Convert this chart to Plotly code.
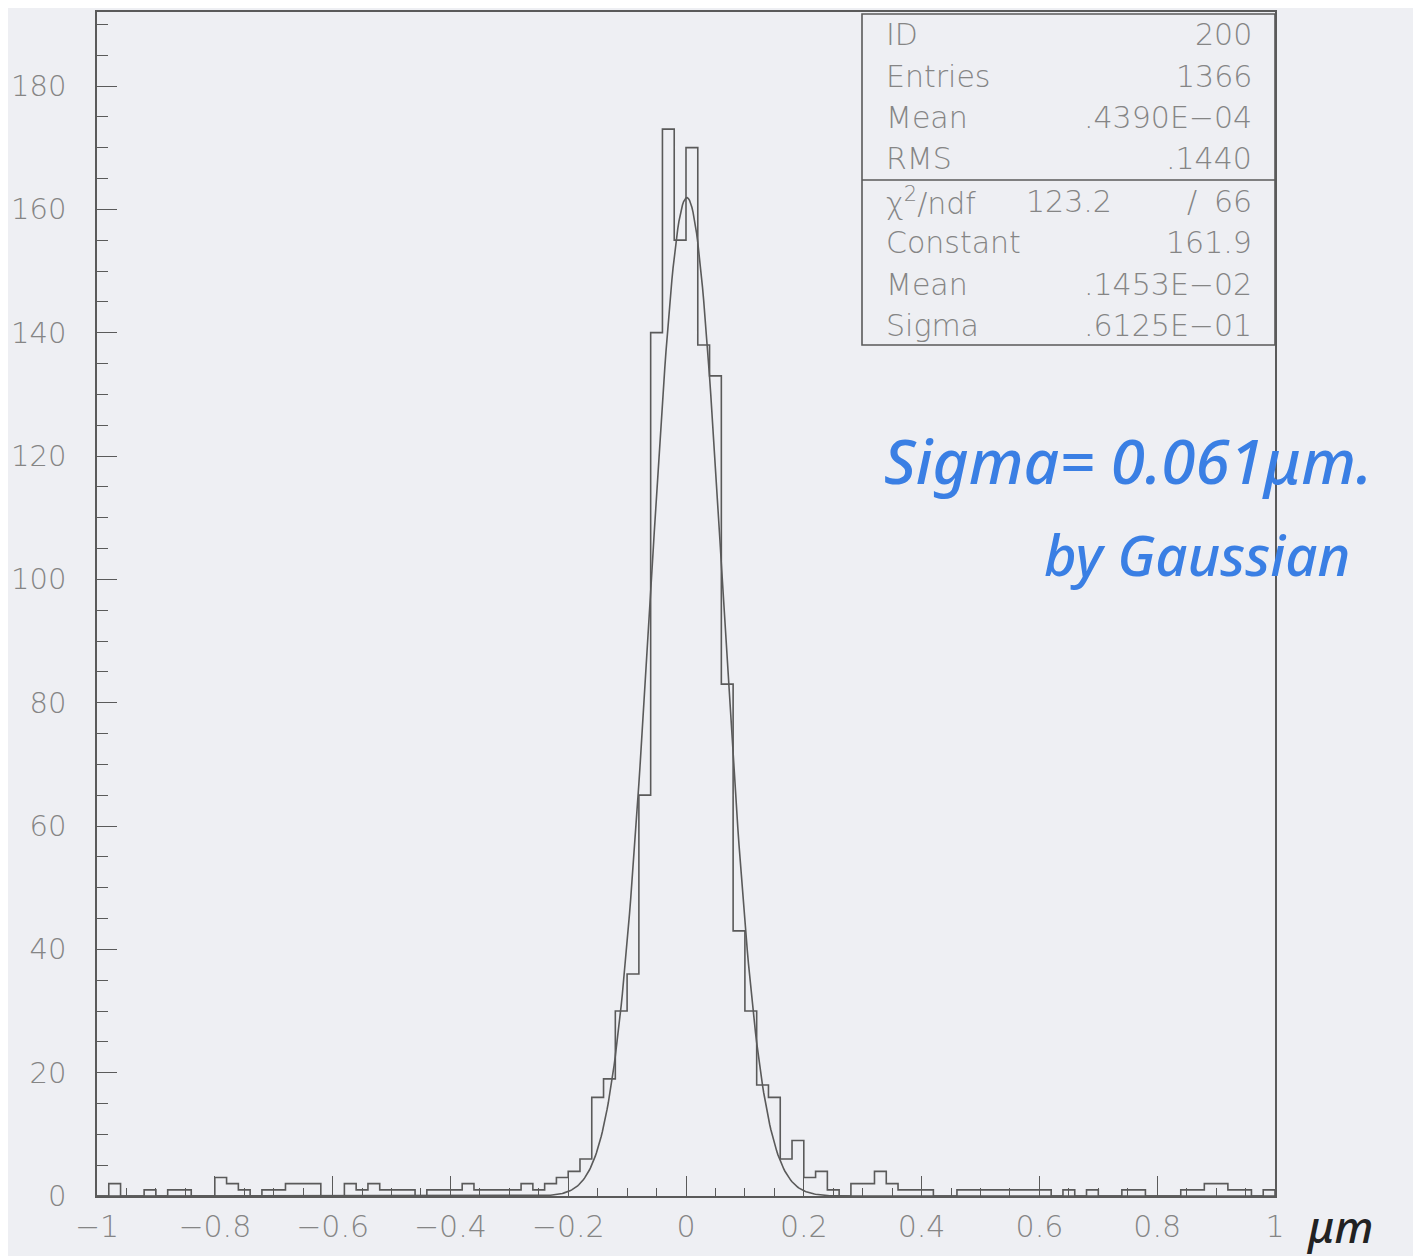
import numpy as np
import plotly.graph_objects as go

# ---------------- data ----------------
x_min, x_max, n_bins = -1.0, 1.0, 100
counts = [
    0, 2, 0, 0, 1, 0, 1, 1, 0, 0,
    3, 2, 1, 0, 1, 1, 2, 2, 2, 0,
    0, 2, 1, 2, 1, 1, 1, 0, 1, 1,
    1, 2, 1, 1, 1, 1, 2, 1, 2, 3,
    4, 6, 16, 19, 30, 36, 65, 140, 173, 155,
    170, 138, 133, 83, 43, 30, 18, 16, 6, 9,
    3, 4, 1, 0, 2, 2, 4, 2, 1, 1,
    1, 0, 0, 1, 1, 1, 1, 1, 1, 1,
    1, 0, 1, 0, 1, 0, 0, 1, 1, 0,
    0, 0, 1, 1, 2, 2, 1, 1, 0, 1,
]
x_ticks = [-1, -0.8, -0.6, -0.4, -0.2, 0, 0.2, 0.4, 0.6, 0.8, 1]
y_ticks = [0, 20, 40, 60, 80, 100, 120, 140, 160, 180]

# fit parameters (from the statistics box)
gauss_const = 161.9
gauss_mean = 0.1453e-02
gauss_sigma = 0.6125e-01

stat_labels_top = ["ID", "Entries", "Mean", "RMS"]
stat_values_top = ["200", "1366", ".4390E\u221204", ".1440"]
chi2_value, ndf_value = "123.2", "66"
stat_labels_bot = ["Constant", "Mean", "Sigma"]
stat_values_bot = ["161.9", ".1453E\u221202", ".6125E\u221201"]

note_line1 = "Sigma= 0.061\u03bcm."
note_line2 = "by Gaussian"
unit_note = "\u03bcm"

# ---------------- figure ----------------
# the page body has an 8px margin; size the figure so the plot lands where the reference has it
OFF = 8
W, H = 1421 - OFF, 1256 - OFF
L, R, T, B = 97 - OFF, 146, 12 - OFF, 60
pw, ph = W - L - R, H - T - B


def px(xp):
    return (xp - OFF - L) / pw


def py(yp):
    return (H - B - (yp - OFF)) / ph


edges = np.linspace(x_min, x_max, n_bins + 1)
step_x = [edges[0]] + list(edges)
step_y = [0] + list(counts) + [0]

gx = np.linspace(x_min, x_max, 1001)
gy = gauss_const * np.exp(-0.5 * ((gx - gauss_mean) / gauss_sigma) ** 2)

line_col = "#5a5a5a"
text_col = "#858585"
bg = "#eeeff3"
font_fam = "DejaVu Sans"
FS = 30

fig = go.Figure()
fig.add_trace(go.Scatter(x=step_x, y=step_y, mode="lines", line_shape="hv",
                         line=dict(color=line_col, width=1.6), hoverinfo="skip"))
fig.add_trace(go.Scatter(x=gx, y=gy, mode="lines",
                         line=dict(color=line_col, width=1.6), hoverinfo="skip"))

fig.update_layout(
    width=W, height=H, autosize=False,
    margin=dict(l=L, r=R, t=T, b=B),
    paper_bgcolor=bg, plot_bgcolor=bg,
    showlegend=False,
    font=dict(family=font_fam, color=text_col, size=FS, weight=200),
)

fig.update_xaxes(
    range=[x_min, x_max], tickvals=x_ticks, ticks="inside", ticklen=20,
    tickcolor=line_col, tickwidth=1.3, automargin=False,
    showline=True, mirror=True, linecolor=line_col, linewidth=1.6,
    showgrid=False, zeroline=False, ticklabelstandoff=3,
    tickfont=dict(family=font_fam, color=text_col, size=FS, weight=200),
    minor=dict(dtick=0.05, ticks="inside", ticklen=8, tickcolor=line_col, tickwidth=1.2, showgrid=False),
)
fig.update_yaxes(
    range=[0, 192], tickvals=y_ticks, ticks="inside", ticklen=20,
    tickcolor=line_col, tickwidth=1.3, automargin=False,
    showline=True, mirror=True, linecolor=line_col, linewidth=1.6,
    showgrid=False, zeroline=False, ticklabelstandoff=23,
    tickfont=dict(family=font_fam, color=text_col, size=29, weight=200),
    minor=dict(dtick=5, ticks="inside", ticklen=11, tickcolor=line_col, tickwidth=1.2, showgrid=False),
)

# statistics box
box_x0, box_x1 = px(862), 1.0
box_y1, box_ymid, box_y0 = py(14), py(180), py(345)
fig.add_shape(type="rect", xref="paper", yref="paper", x0=box_x0, x1=box_x1, y0=box_y0, y1=box_y1,
              line=dict(color=line_col, width=1.6), fillcolor=bg, layer="above")
fig.add_shape(type="line", xref="paper", yref="paper", x0=box_x0, x1=box_x1, y0=box_ymid, y1=box_ymid,
              line=dict(color=line_col, width=1.6), layer="above")

row_y = [35, 76, 118, 159, 201, 242, 284, 325]
lab_x, val_x = px(884), px(1254)
sfont = dict(family=font_fam, color=text_col, size=FS, weight=200)


def stat(text, x, y, anchor):
    fig.add_annotation(text=text, xref="paper", yref="paper", x=x, y=py(y),
                       xanchor=anchor, yanchor="middle", showarrow=False, font=sfont)


for i, (lab, val) in enumerate(zip(stat_labels_top, stat_values_top)):
    stat(lab, lab_x, row_y[i], "left")
    stat(val, val_x, row_y[i], "right")

stat("\u03c7<sup>2</sup>/ndf", lab_x, row_y[4], "left")
stat(chi2_value, px(1114), row_y[4], "right")
stat("/", px(1192), row_y[4], "center")
stat(ndf_value, val_x, row_y[4], "right")

for j, (lab, val) in enumerate(zip(stat_labels_bot, stat_values_bot)):
    stat(lab, lab_x, row_y[5 + j], "left")
    stat(val, val_x, row_y[5 + j], "right")

# handwritten notes
fig.add_annotation(text=note_line1, xref="paper", yref="paper", x=px(882), y=py(460),
                   xanchor="left", yanchor="middle", showarrow=False,
                   font=dict(family="Noto Sans", color="#3a7fe4", size=62, style="italic", weight=500))
fig.add_annotation(text=note_line2, xref="paper", yref="paper", x=px(1042), y=py(554),
                   xanchor="left", yanchor="middle", showarrow=False,
                   font=dict(family="Noto Sans", color="#3a7fe4", size=56, style="italic", weight=500))
fig.add_annotation(text=unit_note, xref="paper", yref="paper", x=px(1304), y=py(1226),
                   xanchor="left", yanchor="middle", showarrow=False,
                   font=dict(family="Noto Sans", color="#222222", size=44, style="italic", weight=500))

fig.write_html("out.html")
